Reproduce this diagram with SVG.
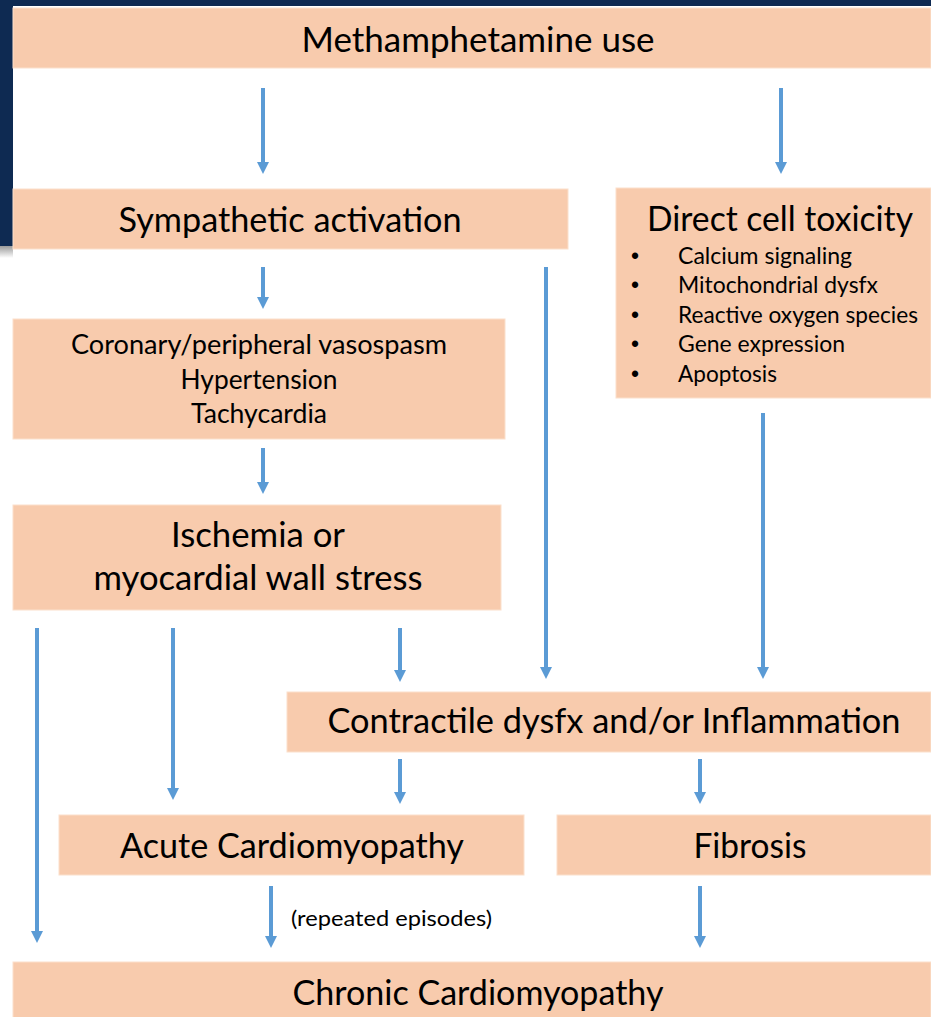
<svg xmlns="http://www.w3.org/2000/svg" width="931" height="1017" viewBox="0 0 931 1017">
  <defs>
    <style>
      .box { fill: #f8cbad; stroke: #fbe0cc; stroke-width: 1; }
      .t { font-family: Lato, "Open Sans", sans-serif; fill: #000; text-anchor: middle; }
      .big { font-size: 34px; }
      .mid { font-size: 26px; }
      .sm { font-family: Lato, "Open Sans", sans-serif; font-size: 22.5px; fill: #000; }
      .bul { font-family: "Liberation Sans", sans-serif; font-size: 23px; fill: #000; }
      .lbl { font-family: Lato, "Open Sans", sans-serif; font-size: 21px; fill: #000; }
      .conn line { stroke: #5b9bd5; stroke-width: 4; marker-end: url(#ah); }
    </style>
    <marker id="ah" viewBox="0 0 12 12" refX="0" refY="6" markerWidth="12" markerHeight="12" orient="auto" markerUnits="userSpaceOnUse">
      <path d="M0,0 L12,6 L0,12 Z" fill="#5b9bd5"/>
    </marker>
    <linearGradient id="shadow" x1="0" y1="0" x2="0" y2="1">
      <stop offset="0" stop-color="#9a9a9a"/>
      <stop offset="1" stop-color="#ffffff"/>
    </linearGradient>
  </defs>
  <rect x="0" y="0" width="931" height="1017" fill="#ffffff"/>
  <g id="frame">
    <rect x="0" y="0" width="931" height="6" fill="#0e2a52"/>
    <rect x="0" y="0" width="13" height="246" fill="#0e2a52"/>
    <rect x="0" y="246" width="13" height="12" fill="url(#shadow)"/>
  </g>

  <g class="conn" id="connectors">
    <line x1="263" y1="88" x2="263" y2="162"/>
    <line x1="781" y1="88" x2="781" y2="162"/>
    <line x1="263" y1="267" x2="263" y2="297"/>
    <line x1="263" y1="448" x2="263" y2="482"/>
    <line x1="37" y1="628" x2="37" y2="931"/>
    <line x1="173" y1="628" x2="173" y2="788"/>
    <line x1="400" y1="628" x2="400" y2="670"/>
    <line x1="546" y1="267" x2="546" y2="667"/>
    <line x1="763" y1="413" x2="763" y2="667"/>
    <line x1="400" y1="759" x2="400" y2="792"/>
    <line x1="700" y1="759" x2="700" y2="792"/>
    <line x1="271" y1="886" x2="271" y2="936"/>
    <line x1="700" y1="886" x2="700" y2="936"/>
  </g>

  <g id="n-meth">
    <rect class="box" x="13" y="8" width="918" height="60"/>
    <text class="t big" x="478" y="52" textLength="353" lengthAdjust="spacingAndGlyphs">Methamphetamine use</text>
  </g>
  <g id="n-symp">
    <rect class="box" x="13" y="189" width="555" height="60"/>
    <text class="t big" x="290" y="232" textLength="343" lengthAdjust="spacingAndGlyphs">Sympathetic activation</text>
  </g>
  <g id="n-direct">
    <rect class="box" x="616" y="188" width="315" height="210"/>
    <text class="t big" x="780" y="231" textLength="266" lengthAdjust="spacingAndGlyphs">Direct cell toxicity</text>
    <text class="bul" x="631" y="264">•</text><text class="sm" x="678" y="264" textLength="174" lengthAdjust="spacingAndGlyphs">Calcium signaling</text>
    <text class="bul" x="631" y="293">•</text><text class="sm" x="678" y="293" textLength="200" lengthAdjust="spacingAndGlyphs">Mitochondrial dysfx</text>
    <text class="bul" x="631" y="323">•</text><text class="sm" x="678" y="323" textLength="240" lengthAdjust="spacingAndGlyphs">Reactive oxygen species</text>
    <text class="bul" x="631" y="352">•</text><text class="sm" x="678" y="352" textLength="167" lengthAdjust="spacingAndGlyphs">Gene expression</text>
    <text class="bul" x="631" y="382">•</text><text class="sm" x="678" y="382" textLength="99" lengthAdjust="spacingAndGlyphs">Apoptosis</text>
  </g>
  <g id="n-vaso">
    <rect class="box" x="13" y="319" width="492" height="120"/>
    <text class="t mid" x="259" y="354" textLength="376" lengthAdjust="spacingAndGlyphs">Coronary/peripheral vasospasm</text>
    <text class="t mid" x="259" y="389" textLength="157" lengthAdjust="spacingAndGlyphs">Hypertension</text>
    <text class="t mid" x="259" y="423" textLength="136" lengthAdjust="spacingAndGlyphs">Tachycardia</text>
  </g>
  <g id="n-isch">
    <rect class="box" x="13" y="505" width="488" height="105"/>
    <text class="t big" x="258" y="547" textLength="174" lengthAdjust="spacingAndGlyphs">Ischemia or</text>
    <text class="t big" x="258" y="590" textLength="329" lengthAdjust="spacingAndGlyphs">myocardial wall stress</text>
  </g>
  <g id="n-contr">
    <rect class="box" x="287" y="692" width="644" height="60"/>
    <text class="t big" x="614" y="733" textLength="573" lengthAdjust="spacingAndGlyphs">Contractile dysfx and/or Inflammation</text>
  </g>
  <g id="n-acute">
    <rect class="box" x="59" y="815" width="465" height="60"/>
    <text class="t big" x="292" y="858" textLength="344" lengthAdjust="spacingAndGlyphs">Acute Cardiomyopathy</text>
  </g>
  <g id="n-fib">
    <rect class="box" x="557" y="815" width="374" height="60"/>
    <text class="t big" x="750" y="858" textLength="113" lengthAdjust="spacingAndGlyphs">Fibrosis</text>
  </g>
  <g id="n-chronic">
    <rect class="box" x="13" y="962" width="918" height="60"/>
    <text class="t big" x="478" y="1005" textLength="371" lengthAdjust="spacingAndGlyphs">Chronic Cardiomyopathy</text>
  </g>
  <text class="lbl" x="291" y="926" textLength="201" lengthAdjust="spacingAndGlyphs">(repeated episodes)</text>
</svg>
